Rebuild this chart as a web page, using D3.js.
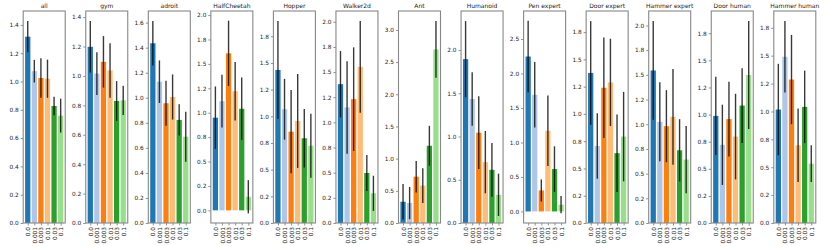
<!DOCTYPE html>
<html>
<head>
<meta charset="utf-8">
<script src="https://cdn.jsdelivr.net/npm/d3@7"></script>
<style>
  body { margin: 0; background: #fff; }
  svg { display: block; }
  text { font-family: "DejaVu Sans", sans-serif; fill: #222; }
</style>
</head>
<body>
<div id="chart"></div>
<script>
var titles = ["all", "gym", "adroit", "HalfCheetah", "Hopper", "Walker2d", "Ant", "Humanoid",
  "Pen expert", "Door expert", "Hammer expert", "Door human", "Hammer human"];
var categories = ["0.0", "0.001", "0.003", "0.01", "0.03", "0.1"];
var colors = ["#1f77b4", "#aec7e8", "#ff7f0e", "#ffbb78", "#2ca02c", "#98df8a"];

// mean per panel, one value per category
var means = [
  [1.317, 1.073, 1.025, 1.02, 0.827, 0.759],
  [1.198, 1.016, 1.096, 1.037, 0.83, 0.834],
  [1.435, 1.128, 0.956, 1.006, 0.823, 0.689],
  [0.949, 1.118, 1.608, 1.22, 1.04, 0.139],
  [1.434, 1.066, 0.856, 0.956, 0.794, 0.724],
  [1.38, 1.149, 1.231, 1.552, 0.497, 0.295],
  [0.33, 0.31, 0.72, 0.58, 1.2, 2.697],
  [1.895, 1.434, 1.045, 0.704, 0.615, 0.326],
  [2.246, 1.691, 0.304, 1.17, 0.614, 0.097],
  [1.376, 0.706, 1.24, 1.289, 0.64, 0.792],
  [1.544, 1.024, 0.98, 1.075, 0.736, 0.642],
  [0.988, 0.721, 0.958, 0.797, 1.083, 1.365],
  [1.017, 1.49, 1.286, 0.697, 1.041, 0.532]
];
// error bar half-length
var errs = [
  [0.11, 0.08, 0.14, 0.135, 0.065, 0.12],
  [0.175, 0.145, 0.175, 0.185, 0.135, 0.10],
  [0.177, 0.17, 0.18, 0.18, 0.125, 0.2],
  [0.32, 0.27, 0.335, 0.3, 0.32, 0.17],
  [0.458, 0.285, 0.39, 0.44, 0.275, 0.3],
  [0.33, 0.46, 0.515, 0.455, 0.18, 0.175],
  [0.275, 0.25, 0.245, 0.27, 0.31, 0.44],
  [0.44, 0.31, 0.42, 0.36, 0.31, 0.245],
  [0.52, 0.475, 0.16, 0.51, 0.33, 0.125],
  [0.475, 0.3, 0.46, 0.4, 0.355, 0.41],
  [0.5, 0.4, 0.365, 0.485, 0.315, 0.34],
  [0.36, 0.37, 0.345, 0.395, 0.345, 0.497],
  [0.41, 0.32, 0.4, 0.33, 0.325, 0.165]
];

var W = 830, H = 246;
var left0 = 23.2, pitch = 62.55, pw = 42, axTop = 11, axBottom = 223;
var ph = axBottom - axTop;

var svg = d3.select("#chart").append("svg")
  .attr("width", W)
  .attr("height", H);

// python style "%.1f" (round half to even)
function fmt(v) {
  var x = v * 10, f = Math.floor(x + 1e-9), r;
  if (Math.abs(x - f - 0.5) < 1e-6) r = (f % 2 === 0) ? f : f + 1;
  else r = Math.round(x);
  return (r / 10).toFixed(1);
}

function niceTicks(lo, hi) {
  var raw = (hi - lo) / 9;
  var scale = Math.pow(10, Math.floor(Math.log10(raw)));
  var steps = [1, 2, 2.5, 5, 10], step = 10 * scale;
  for (var i = 0; i < steps.length; i++) {
    if (steps[i] * scale >= raw - 1e-12) { step = steps[i] * scale; break; }
  }
  var out = [];
  for (var k = Math.ceil(lo / step - 1e-9); k * step <= hi + 1e-9; k++) out.push(k * step);
  return out;
}

titles.forEach(function (title, p) {
  var m = means[p], e = errs[p];
  var lo = d3.min(m, function (v, i) { return v - e[i]; });
  var hi = d3.max(m, function (v, i) { return v + e[i]; });
  var ylo, yhi;
  if (lo < 0) {
    var R = hi - lo;
    ylo = lo - 0.05 * R; yhi = hi + 0.05 * R;
  } else {
    ylo = 0; yhi = hi * 1.05;
  }

  var x = d3.scaleLinear().domain([-0.69, 5.69]).range([0, pw]);
  var y = d3.scaleLinear().domain([ylo, yhi]).range([ph, 0]);

  var g = svg.append("g")
    .attr("transform", "translate(" + (left0 + p * pitch) + "," + axTop + ")");

  g.selectAll("rect.bar")
    .data(m)
    .enter()
    .append("rect")
    .attr("class", "bar")
    .attr("x", function (d, i) { return x(i - 0.4); })
    .attr("width", x(0.4) - x(-0.4))
    .attr("y", function (d) { return y(Math.max(0, d)); })
    .attr("height", function (d) { return Math.abs(y(0) - y(d)); })
    .attr("fill", function (d, i) { return colors[i]; });

  g.selectAll("line.err")
    .data(m)
    .enter()
    .append("line")
    .attr("class", "err")
    .attr("x1", function (d, i) { return x(i); })
    .attr("x2", function (d, i) { return x(i); })
    .attr("y1", function (d, i) { return y(d + e[i]); })
    .attr("y2", function (d, i) { return y(d - e[i]); })
    .attr("stroke", "#000")
    .attr("stroke-opacity", 0.78)
    .attr("stroke-width", 1.4);

  var yAxis = g.append("g")
    .call(d3.axisLeft(y).tickValues(niceTicks(ylo, yhi)).tickFormat(fmt).tickSize(2.5).tickPadding(2));
  yAxis.select(".domain").remove();
  yAxis.selectAll("text").attr("font-size", 5.8).attr("font-family", "DejaVu Sans");
  yAxis.selectAll("line").attr("stroke", "#444").attr("stroke-width", 0.6);

  var xAxis = g.append("g")
    .attr("transform", "translate(0," + ph + ")")
    .call(d3.axisBottom(x).tickValues(d3.range(categories.length))
      .tickFormat(function (i) { return categories[i]; }).tickSize(2.5).tickPadding(2));
  xAxis.select(".domain").remove();
  xAxis.selectAll("line").attr("stroke", "#444").attr("stroke-width", 0.6);
  xAxis.selectAll("text")
    .attr("font-size", 5.8)
    .attr("font-family", "DejaVu Sans")
    .attr("text-anchor", "end")
    .attr("transform", "rotate(-90)")
    .attr("x", -4)
    .attr("y", 0)
    .attr("dy", "0.35em");

  g.append("rect")
    .attr("x", 0).attr("y", 0)
    .attr("width", pw).attr("height", ph)
    .attr("fill", "none")
    .attr("stroke", "#888")
    .attr("stroke-width", 1.1);

  g.append("text")
    .attr("x", pw / 2)
    .attr("y", -3.5)
    .attr("text-anchor", "middle")
    .attr("font-size", 6)
    .text(title);
});
</script>
</body>
</html>
